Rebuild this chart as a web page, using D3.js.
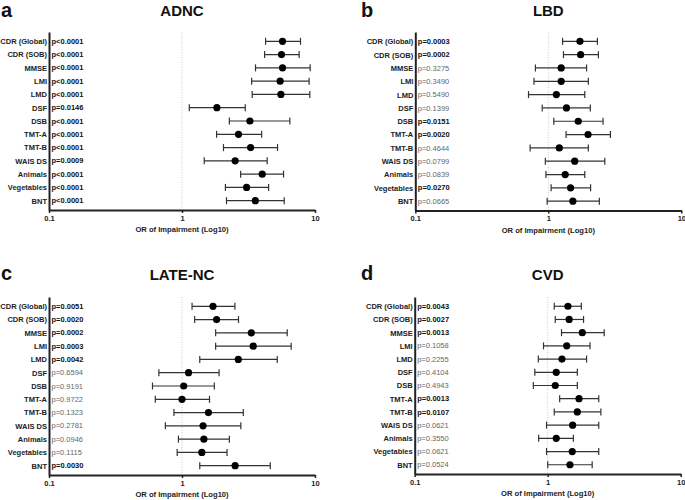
<!DOCTYPE html>
<html>
<head>
<meta charset="utf-8">
<script src="https://cdn.jsdelivr.net/npm/d3@7/dist/d3.min.js"></script>
<style>
  html, body { margin: 0; padding: 0; background: #fff; }
  svg { display: block; font-family: "Liberation Sans", Arial, sans-serif; }
</style>
</head>
<body>
<svg id="chart" width="685" height="500"></svg>
<script>
// ---------- DATA ----------
const categories = ["CDR (Global)", "CDR (SOB)", "MMSE", "LMI", "LMD", "DSF", "DSB",
  "TMT-A", "TMT-B", "WAIS DS", "Animals", "Vegetables", "BNT"];
const tickValues = [0.1, 1, 10];
const panelLetters = ["a", "b", "c", "d"];
const panelTitles = ["ADNC", "LBD", "LATE-NC", "CVD"];
const axisTitle = "OR of Impairment (Log10)";

// ADNC
const adncOR = [5.70, 5.60, 5.70, 5.47, 5.54, 1.83, 3.24, 2.66, 3.28, 2.51, 4.01, 3.06, 3.56];
const adncLo = [4.25, 4.18, 3.57, 3.34, 3.37, 1.135, 2.27, 1.82, 2.05, 1.47, 2.76, 2.12, 2.16];
const adncHi = [7.78, 7.60, 9.20, 9.03, 9.14, 2.99, 6.47, 3.97, 5.23, 4.37, 5.80, 4.48, 5.87];
const adncP = ["p<0.0001", "p<0.0001", "p<0.0001", "p<0.0001", "p<0.0001", "p=0.0146", "p<0.0001",
  "p<0.0001", "p<0.0001", "p=0.0009", "p<0.0001", "p<0.0001", "p<0.0001"];
const adncSig = [1, 1, 1, 1, 1, 1, 1, 1, 1, 1, 1, 1, 1];

// LBD
const lbdOR = [1.73, 1.75, 1.25, 1.25, 1.15, 1.37, 1.68, 1.99, 1.21, 1.58, 1.34, 1.47, 1.53];
const lbdLo = [1.28, 1.30, 0.80, 0.78, 0.71, 0.90, 1.10, 1.36, 0.73, 0.95, 0.96, 1.05, 0.98];
const lbdHi = [2.34, 2.38, 1.94, 2.00, 1.88, 2.07, 2.58, 2.93, 2.00, 2.66, 1.88, 2.08, 2.42];
const lbdP = ["p=0.0003", "p=0.0002", "p=0.3275", "p=0.3490", "p=0.5490", "p=0.1399", "p=0.0151",
  "p=0.0020", "p=0.4644", "p=0.0799", "p=0.0839", "p=0.0270", "p=0.0665"];
const lbdSig = [1, 1, 0, 0, 0, 0, 1, 1, 0, 0, 0, 1, 0];

// LATE-NC
const lateOR = [1.71, 1.82, 3.32, 3.43, 2.65, 1.12, 1.03, 1.00, 1.58, 1.44, 1.46, 1.41, 2.51];
const lateLo = [1.19, 1.245, 1.79, 1.79, 1.36, 0.67, 0.60, 0.63, 0.87, 0.75, 0.94, 0.92, 1.36];
const lateHi = [2.50, 2.66, 6.18, 6.62, 5.20, 1.90, 1.75, 1.61, 2.89, 2.77, 2.27, 2.18, 4.61];
const lateP = ["p=0.0051", "p=0.0020", "p=0.0002", "p=0.0003", "p=0.0042", "p=0.6594", "p=0.9191",
  "p=0.9722", "p=0.1323", "p=0.2781", "p=0.0946", "p=0.1115", "p=0.0030"];
const lateSig = [1, 1, 1, 1, 1, 0, 0, 0, 0, 0, 0, 0, 1];

// CVD
const cvdOR = [1.42, 1.45, 1.82, 1.39, 1.28, 1.16, 1.14, 1.72, 1.67, 1.54, 1.16, 1.53, 1.47];
const cvdLo = [1.12, 1.14, 1.27, 0.93, 0.85, 0.80, 0.78, 1.23, 1.12, 0.98, 0.855, 0.98, 1.00];
const cvdHi = [1.79, 1.86, 2.66, 2.08, 1.96, 1.67, 1.67, 2.42, 2.51, 2.42, 1.56, 2.42, 2.16];
const cvdP = ["p=0.0043", "p=0.0027", "p=0.0013", "p=0.1058", "p=0.2255", "p=0.4104", "p=0.4943",
  "p=0.0013", "p=0.0107", "p=0.0621", "p=0.3550", "p=0.0621", "p=0.0524"];
const cvdSig = [1, 1, 1, 0, 0, 0, 0, 1, 1, 0, 0, 0, 0];

// ---------- LAYOUT ----------
const panels = [
  { or: adncOR, lo: adncLo, hi: adncHi, p: adncP, sig: adncSig, x0: 49, yTop: 32, yBot: 210, letterX: 1, letterY: 17, titleY: 16 },
  { or: lbdOR, lo: lbdLo, hi: lbdHi, p: lbdP, sig: lbdSig, x0: 415.3, yTop: 32, yBot: 210.5, letterX: 361, letterY: 17, titleY: 16 },
  { or: lateOR, lo: lateLo, hi: lateHi, p: lateP, sig: lateSig, x0: 49, yTop: 297, yBot: 475, letterX: 1, letterY: 280, titleY: 280 },
  { or: cvdOR, lo: cvdLo, hi: cvdHi, p: cvdP, sig: cvdSig, x0: 414.7, yTop: 297, yBot: 474, letterX: 361, letterY: 280, titleY: 280 }
];
const axisWidth = 266;

const svg = d3.select("#chart");

panels.forEach((P, i) => {
  const g = svg.append("g");
  const x = d3.scaleLog().domain([0.1, 10]).range([P.x0, P.x0 + axisWidth]);
  const y = d3.scalePoint().domain(categories).range([P.yTop, P.yBot]).padding(0.7);

  // panel letter
  g.append("text").attr("x", P.letterX).attr("y", P.letterY)
    .attr("font-size", 20).attr("font-weight", "bold").attr("fill", "#111")
    .text(panelLetters[i]);
  // title
  g.append("text").attr("x", x(1)).attr("y", P.titleY).attr("text-anchor", "middle")
    .attr("font-size", 15).attr("font-weight", "bold").attr("fill", "#111")
    .text(panelTitles[i]);

  // reference line at 1
  g.append("line").attr("x1", x(1)).attr("x2", x(1))
    .attr("y1", P.yTop).attr("y2", P.yBot)
    .attr("stroke", "#bbb").attr("stroke-width", 0.8).attr("stroke-dasharray", "1,1.5");

  // x axis
  const xa = g.append("g").attr("transform", `translate(0,${P.yBot})`)
    .call(d3.axisBottom(x).tickValues(tickValues).tickFormat(d => String(d)).tickSize(3).tickSizeOuter(0));
  xa.select(".domain").attr("stroke", "#222").attr("stroke-width", 2);
  xa.selectAll(".tick line").attr("stroke", "#222").attr("stroke-width", 1.5);
  xa.selectAll(".tick text").attr("font-family", "Liberation Sans, Arial, sans-serif")
    .attr("font-size", 7.5).attr("font-weight", "bold").attr("fill", "#222").attr("dy", "0.75em").attr("y", 5);

  g.append("text").attr("x", x(1)).attr("y", P.yBot + 22).attr("text-anchor", "middle")
    .attr("font-size", 7.6).attr("font-weight", "bold").attr("fill", "#222").text(axisTitle);

  // y axis
  const ya = g.append("g").attr("transform", `translate(${P.x0},0)`)
    .call(d3.axisLeft(y).tickSize(0).tickPadding(2).tickSizeOuter(0));
  ya.select(".domain").attr("stroke", "#222").attr("stroke-width", 2);
  ya.selectAll(".tick text").attr("font-family", "Liberation Sans, Arial, sans-serif")
    .attr("font-size", 7.5).attr("font-weight", "bold").attr("fill", "#222");

  // p-values
  g.selectAll("text.pval").data(categories).join("text").attr("class", "pval")
    .attr("x", P.x0 + 2.5).attr("y", c => y(c)).attr("dy", "0.35em")
    .attr("font-size", 7.5)
    .attr("font-weight", (c, j) => P.sig[j] ? "bold" : "normal")
    .attr("fill", (c, j) => P.sig[j] ? "#111" : "#666")
    .text((c, j) => P.p[j]);

  // error bars
  const rows = categories.map((c, j) => ({ c, or: P.or[j], lo: P.lo[j], hi: P.hi[j] }));
  const eb = g.selectAll("g.eb").data(rows).join("g").attr("class", "eb");
  eb.append("line").attr("x1", d => x(d.lo)).attr("x2", d => x(d.hi))
    .attr("y1", d => y(d.c)).attr("y2", d => y(d.c))
    .attr("stroke", "#333").attr("stroke-width", 1.2);
  eb.append("line").attr("x1", d => x(d.lo)).attr("x2", d => x(d.lo))
    .attr("y1", d => y(d.c) - 3.5).attr("y2", d => y(d.c) + 3.5)
    .attr("stroke", "#333").attr("stroke-width", 1.2);
  eb.append("line").attr("x1", d => x(d.hi)).attr("x2", d => x(d.hi))
    .attr("y1", d => y(d.c) - 3.5).attr("y2", d => y(d.c) + 3.5)
    .attr("stroke", "#333").attr("stroke-width", 1.2);
  eb.append("circle").attr("cx", d => x(d.or)).attr("cy", d => y(d.c)).attr("r", 3.6).attr("fill", "#000");
});
</script>
</body>
</html>
